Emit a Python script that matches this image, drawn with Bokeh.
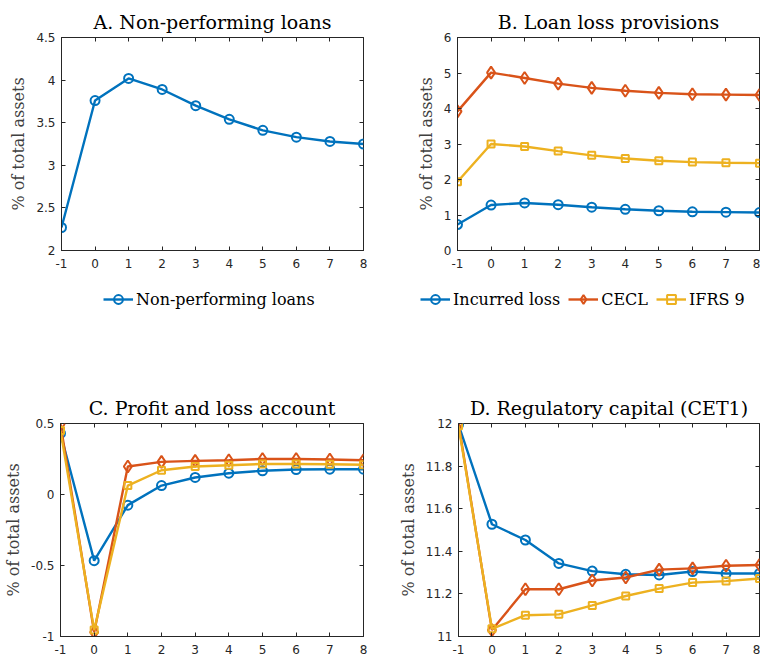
from bokeh.plotting import figure
from bokeh.models import (FixedTicker, LinearAxis, Legend, LegendItem, Range1d,
                          CustomJSTickFormatter)
from bokeh.layouts import column, row
from bokeh.embed import file_html
from bokeh.resources import INLINE

# ---------------- data ----------------
periods = [-1, 0, 1, 2, 3, 4, 5, 6, 7, 8]
period_labels = ["-1", "0", "1", "2", "3", "4", "5", "6", "7", "8"]

npl = [2.27, 3.76, 4.02, 3.89, 3.70, 3.54, 3.41, 3.33, 3.28, 3.25]

llp_incurred = [0.73, 1.28, 1.34, 1.29, 1.22, 1.16, 1.12, 1.09, 1.08, 1.07]
llp_cecl = [3.92, 5.01, 4.86, 4.70, 4.58, 4.50, 4.44, 4.40, 4.39, 4.38]
llp_ifrs9 = [1.94, 3.00, 2.93, 2.80, 2.68, 2.59, 2.53, 2.49, 2.47, 2.46]

pl_incurred = [0.43, -0.466, -0.075, 0.063, 0.12, 0.15, 0.167, 0.176, 0.178, 0.178]
pl_cecl = [0.495, -0.97, 0.197, 0.23, 0.237, 0.241, 0.25, 0.25, 0.246, 0.241]
pl_ifrs9 = [0.45, -0.955, 0.063, 0.171, 0.197, 0.206, 0.215, 0.215, 0.213, 0.21]

cet1_incurred = [11.995, 11.527, 11.453, 11.343, 11.307, 11.292, 11.289, 11.305, 11.296, 11.296]
cet1_cecl = [12.0, 11.03, 11.222, 11.222, 11.263, 11.277, 11.314, 11.32, 11.332, 11.336]
cet1_ifrs9 = [11.99, 11.036, 11.10, 11.104, 11.146, 11.19, 11.225, 11.253, 11.26, 11.272]

yticks_a = [2, 2.5, 3, 3.5, 4, 4.5]
ylabels_a = ["2", "2.5", "3", "3.5", "4", "4.5"]
yticks_b = [0, 1, 2, 3, 4, 5, 6]
ylabels_b = ["0", "1", "2", "3", "4", "5", "6"]
yticks_c = [-1, -0.5, 0, 0.5]
ylabels_c = ["-1", "-0.5", "0", "0.5"]
yticks_d = [11, 11.2, 11.4, 11.6, 11.8, 12]
ylabels_d = ["11", "11.2", "11.4", "11.6", "11.8", "12"]

titles = ["A. Non-performing loans", "B. Loan loss provisions",
          "C. Profit and loss account", "D. Regulatory capital (CET1)"]
series_names = ["Incurred loss", "CECL", "IFRS 9"]
npl_name = "Non-performing loans"
ylabel = "% of total assets"

BLUE, ORANGE, YELLOW = "#0072BD", "#D95319", "#EDB120"
AX = "#262626"
SERIF = "DejaVu Serif"
SANS = "DejaVu Sans"
LINE_W, MARK_W = 2.4, 2


def make_panel(title, y0, y1, yticks, ylabels, series, width, height,
               bl, br, bt, bb):
    p = figure(width=width, height=height, output_backend="svg",
               toolbar_location=None, x_range=Range1d(-1, 8),
               y_range=Range1d(y0, y1),
               min_border_left=bl, min_border_right=br,
               min_border_top=bt, min_border_bottom=bb)
    p.xgrid.visible = False
    p.ygrid.visible = False
    p.outline_line_color = AX
    p.outline_line_width = 1
    p.outline_line_alpha = 1
    p.background_fill_color = "white"
    p.border_fill_color = "white"

    p.title.text = title
    p.title.text_font = SERIF
    p.title.text_font_size = "19px"
    p.title.text_font_style = "normal"
    p.title.text_color = "black"
    p.title.align = "center"
    p.title.standoff = 9

    xt = FixedTicker(ticks=periods)
    yt = FixedTicker(ticks=yticks)
    xover = {t: l for t, l in zip(periods, period_labels)}
    yover = {t: l for t, l in zip(yticks, ylabels)}

    for ax in (p.xaxis[0], p.yaxis[0]):
        ax.axis_line_color = AX
        ax.major_tick_in = 4
        ax.major_tick_out = 0
        ax.major_tick_line_color = AX
        ax.minor_tick_line_color = None
        ax.major_label_text_font = SANS
        ax.major_label_text_font_size = "12px"
        ax.major_label_text_color = AX
    p.xaxis[0].major_label_standoff = 8
    p.yaxis[0].major_label_standoff = 6
    p.xaxis[0].ticker = xt
    p.xaxis[0].major_label_overrides = xover
    p.yaxis[0].ticker = yt
    p.yaxis[0].major_label_overrides = yover
    p.yaxis[0].axis_label = ylabel
    p.yaxis[0].axis_label_text_font = SERIF
    p.yaxis[0].axis_label_text_font_style = "normal"
    p.yaxis[0].axis_label_text_font_size = "16px"
    p.yaxis[0].axis_label_text_color = "#404040"
    p.yaxis[0].axis_label_standoff = 5

    # mirrored tick marks on top and right (box style), no labels
    for side, tk in (("above", xt), ("right", yt)):
        ax = LinearAxis(ticker=tk,
                        formatter=CustomJSTickFormatter(code="return ''"))
        ax.axis_line_color = None
        ax.major_tick_in = 4
        ax.major_tick_out = 0
        ax.major_tick_line_color = AX
        ax.minor_tick_line_color = None
        ax.major_label_text_font_size = "0px"
        ax.major_label_standoff = 0
        p.add_layout(ax, side)

    for name, ys, color, marker, msize in series:
        p.line(periods, ys, line_color=color, line_width=LINE_W)
        p.scatter(periods, ys, marker=marker, size=msize,
                  line_color=color, line_width=MARK_W, fill_color=None)
    return p


def make_legend(series, width, height, loc):
    # legend-only strip: the series renderers sit outside its visible range
    q = figure(width=width, height=height, output_backend="svg",
               toolbar_location=None, x_axis_type=None, y_axis_type=None,
               x_range=Range1d(100, 101), y_range=Range1d(100, 101),
               min_border=0, outline_line_color=None)
    q.xgrid.visible = False
    q.ygrid.visible = False
    items = []
    for name, ys, color, marker, msize in series:
        ln = q.line(periods, ys, line_color=color, line_width=LINE_W)
        sc = q.scatter(periods, ys, marker=marker, size=msize,
                       line_color=color, line_width=MARK_W, fill_color=None)
        items.append(LegendItem(label=name, renderers=[ln, sc]))
    lg = Legend(items=items, orientation="horizontal", location=loc)
    lg.label_text_font = SERIF
    lg.label_text_font_size = "16px"
    lg.label_text_color = "black"
    lg.border_line_alpha = 0
    lg.background_fill_alpha = 0
    lg.padding = 0
    lg.margin = 0
    lg.spacing = 8
    lg.label_standoff = 3
    lg.glyph_width = 30
    lg.glyph_height = 22
    lg.label_height = 22
    q.add_layout(lg, "center")
    return q


npl_series = [(npl_name, npl, BLUE, "circle", 9)]
llp_series = [(series_names[0], llp_incurred, BLUE, "circle", 9),
              (series_names[1], llp_cecl, ORANGE, "diamond", 12),
              (series_names[2], llp_ifrs9, YELLOW, "square", 7)]
pl_series = [(series_names[0], pl_incurred, BLUE, "circle", 9),
             (series_names[1], pl_cecl, ORANGE, "diamond", 12),
             (series_names[2], pl_ifrs9, YELLOW, "square", 7)]
cet1_series = [(series_names[0], cet1_incurred, BLUE, "circle", 9),
               (series_names[1], cet1_cecl, ORANGE, "diamond", 12),
               (series_names[2], cet1_ifrs9, YELLOW, "square", 7)]

pA = make_panel(titles[0], 2, 4.5, yticks_a, ylabels_a, npl_series,
                380, 275, 61, 17, 37, 25)
pB = make_panel(titles[1], 0, 6, yticks_b, ylabels_b, llp_series,
                380, 275, 77, 1, 37, 25)
lA = make_legend(npl_series, 380, 105, (103, 70))
lB = make_legend(llp_series, 380, 105, (40, 70))
pC = make_panel(titles[2], -1, 0.5, yticks_c, ylabels_c, pl_series,
                380, 277, 60, 17, 43, 21)
pD = make_panel(titles[3], 11, 12, yticks_d, ylabels_d, cet1_series,
                380, 277, 78, 1, 43, 21)

layout = column(row(pA, pB), row(lA, lB), row(pC, pD))
open("out.html", "w").write(file_html(layout, INLINE))
